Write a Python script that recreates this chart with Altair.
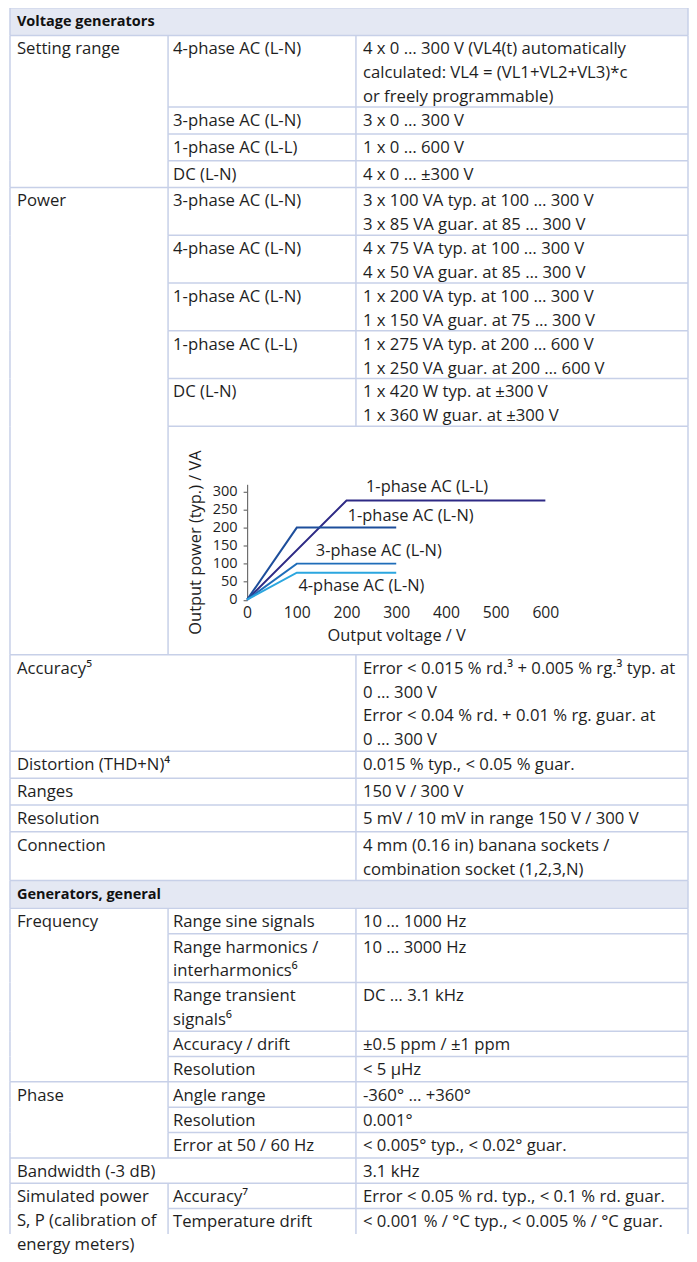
import altair as alt
import pandas as pd

# ---------------- table content ----------------
section1_title = "Voltage generators"
section2_title = "Generators, general"

# (col1 lines, col2 lines, col3 lines); col1 None -> continues from row above,
# col2 None -> col1 spans columns 1-2
rows_top = [
    (["Setting range"], ["4-phase AC (L-N)"],
     ["4 x 0 … 300 V (VL4(t) automatically", "calculated: VL4 = (VL1+VL2+VL3)*c", "or freely programmable)"]),
    (None, ["3-phase AC (L-N)"], ["3 x 0 … 300 V"]),
    (None, ["1-phase AC (L-L)"], ["1 x 0 … 600 V"]),
    (None, ["DC (L-N)"], ["4 x 0 … ±300 V"]),
    (["Power"], ["3-phase AC (L-N)"], ["3 x 100 VA typ. at 100 … 300 V", "3 x 85 VA guar. at 85 … 300 V"]),
    (None, ["4-phase AC (L-N)"], ["4 x 75 VA typ. at 100 … 300 V", "4 x 50 VA guar. at 85 … 300 V"]),
    (None, ["1-phase AC (L-N)"], ["1 x 200 VA typ. at 100 … 300 V", "1 x 150 VA guar. at 75 … 300 V"]),
    (None, ["1-phase AC (L-L)"], ["1 x 275 VA typ. at 200 … 600 V", "1 x 250 VA guar. at 200 … 600 V"]),
    (None, ["DC (L-N)"], ["1 x 420 W typ. at ±300 V", "1 x 360 W guar. at ±300 V"]),
    "CHART",
    (["Accuracy⁵"], None, ["Error < 0.015 % rd.³ + 0.005 % rg.³ typ. at", "0 … 300 V",
                           "Error < 0.04 % rd. + 0.01 % rg. guar. at", "0 … 300 V"]),
    (["Distortion (THD+N)⁴"], None, ["0.015 % typ., < 0.05 % guar."]),
    (["Ranges"], None, ["150 V / 300 V"]),
    (["Resolution"], None, ["5 mV / 10 mV in range 150 V / 300 V"]),
    (["Connection"], None, ["4 mm (0.16 in) banana sockets /", "combination socket (1,2,3,N)"]),
]
rows_bottom = [
    (["Frequency"], ["Range sine signals"], ["10 … 1000 Hz"]),
    (None, ["Range harmonics /", "interharmonics⁶"], ["10 … 3000 Hz"]),
    (None, ["Range transient", "signals⁶"], ["DC … 3.1 kHz"]),
    (None, ["Accuracy / drift"], ["±0.5 ppm / ±1 ppm"]),
    (None, ["Resolution"], ["< 5 µHz"]),
    (["Phase"], ["Angle range"], ["-360° … +360°"]),
    (None, ["Resolution"], ["0.001°"]),
    (None, ["Error at 50 / 60 Hz"], ["< 0.005° typ., < 0.02° guar."]),
    (["Bandwidth (-3 dB)"], None, ["3.1 kHz"]),
    (["Simulated power", "S, P (calibration of", "energy meters)"], ["Accuracy⁷"],
     ["Error < 0.05 % rd. typ., < 0.1 % rd. guar."]),
    (None, ["Temperature drift"], ["< 0.001 % / °C typ., < 0.005 % / °C guar."]),
]

# ---------------- embedded chart data ----------------
series_names = ["1-phase AC (L-L)", "1-phase AC (L-N)", "3-phase AC (L-N)", "4-phase AC (L-N)"]
series_voltage = [[0, 200, 600], [0, 100, 300], [0, 100, 300], [0, 100, 300]]
series_power = [[0, 275, 275], [0, 200, 200], [0, 100, 100], [0, 75, 75]]
series_colors = ["#2E2A85", "#1D4E9B", "#1F6DB9", "#2BA6DF"]
x_ticks = [0, 100, 200, 300, 400, 500, 600]
y_ticks = [0, 50, 100, 150, 200, 250, 300]
x_title = "Output voltage / V"
y_title = "Output power (typ.) / VA"

# ---------------- layout (pixels in page coordinates) ----------------
W, H, M = 685, 1246, 8
X_L, X_C2, X_C3, X_R = 10, 169, 358, 692
TX = {1: 17, 2: 174, 3: 365}
TOP = 4
HEADER_H = [28, 28]
top_heights = [72, 27, 27, 27, 48, 48, 48, 48, 48, 230, 97, 27, 27, 27, 49]
bottom_heights = [25.5, 49, 49, 25.5, 25.5, 25.5, 25.5, 25.5, 25.5, 25.5, 25.5]
LINE = 24
FIRST = 14
HEAD_TXT = 14.5
label_pos = {"1-phase AC (L-L)": (362, 313), "1-phase AC (L-N)": (329, 233),
             "3-phase AC (L-N)": (265, 134), "4-phase AC (L-N)": (230, 38)}
CH_X = (248.5 - M, 548.5 - M)
CH_Y0 = 599.5 - M
CH_PX_PER = 0.3627

FONT = "Open Sans"
FS = 16.8
FS_AX = 14.6
FS_CH = 16.5
TEXT_C = "#1E1E1E"
LINE_C = "#C7D0E8"
HEAD_BG = "#E4E8F3"

texts, bold_texts, hr, vr, rects = [], [], [], [], []


def add_header(title, y, h):
    rects.append(dict(x=X_L, x2=X_R, y=y, y2=y + h))
    hr.append(dict(x=X_L, x2=X_R, y=y, y2=y))
    vr.append(dict(x=X_L, x2=X_L, y=y, y2=y + h))
    vr.append(dict(x=X_R, x2=X_R, y=y, y2=y + h))
    bold_texts.append(dict(x=TX[1], y=y + HEAD_TXT, t=title))


def add_rows(rows, heights, y):
    for row, h in zip(rows, heights):
        if row == "CHART":
            hr.append(dict(x=X_C2, x2=X_R, y=y, y2=y))
            for xv in (X_L, X_C2, X_R):
                vr.append(dict(x=xv, x2=xv, y=y, y2=y + h))
            y += h
            continue
        c1, c2, c3 = row
        hr.append(dict(x=X_C2 if c1 is None else X_L, x2=X_R, y=y, y2=y))
        xs = [X_L, X_C3, X_R] + ([X_C2] if c2 is not None else [])
        for xv in xs:
            vr.append(dict(x=xv, x2=xv, y=y, y2=y + h))
        for col, lines in ((1, c1), (2, c2), (3, c3)):
            if lines:
                for i, s in enumerate(lines):
                    texts.append(dict(x=TX[col], y=y + FIRST + LINE * i, t=s))
        y += h
    return y


y = TOP
add_header(section1_title, y, HEADER_H[0])
y = add_rows(rows_top, top_heights, y + HEADER_H[0])
add_header(section2_title, y, HEADER_H[1])
y = add_rows(rows_bottom, bottom_heights, y + HEADER_H[1])

xt = alt.Scale(domain=[M, M + W], range=[0, W], nice=False, zero=False)
yt = alt.Scale(domain=[M, M + H], range=[0, H], nice=False, zero=False)

rect_layer = alt.Chart(pd.DataFrame(rects)).mark_rect(fill=HEAD_BG).encode(
    x=alt.X("x:Q", scale=xt, axis=None), x2="x2:Q",
    y=alt.Y("y:Q", scale=yt, axis=None), y2="y2:Q")
rule_layer = alt.Chart(pd.DataFrame(hr + vr)).mark_rule(color=LINE_C, strokeWidth=1.5).encode(
    x=alt.X("x:Q", scale=xt, axis=None), x2="x2:Q",
    y=alt.Y("y:Q", scale=yt, axis=None), y2="y2:Q")
text_layer = alt.Chart(pd.DataFrame(texts)).mark_text(
    align="left", baseline="middle", font=FONT, fontSize=FS, color=TEXT_C).encode(
    x=alt.X("x:Q", scale=xt, axis=None), y=alt.Y("y:Q", scale=yt, axis=None), text="t:N")
bold_layer = alt.Chart(pd.DataFrame(bold_texts)).mark_text(
    align="left", baseline="middle", font=FONT, fontSize=14.6, fontWeight="bold", color="#111").encode(
    x=alt.X("x:Q", scale=xt, axis=None), y=alt.Y("y:Q", scale=yt, axis=None), text="t:N")

# ---- embedded line chart ----
line_rows = []
for name, vs, ps in zip(series_names, series_voltage, series_power):
    for i, (v, p) in enumerate(zip(vs, ps)):
        line_rows.append(dict(series=name, v=v, p=p, i=i))
line_df = pd.DataFrame(line_rows)
lab_df = pd.DataFrame([dict(series=n, v=label_pos[n][0], p=label_pos[n][1]) for n in series_names])

xs = alt.Scale(domain=[0, 600], range=list(CH_X), nice=False, zero=False)
ys = alt.Scale(domain=[0, 320], range=[CH_Y0, CH_Y0 - 320 * CH_PX_PER], nice=False, zero=False)

axis_common = dict(grid=False, labelFont=FONT, labelFontSize=FS_AX, labelColor=TEXT_C,
                   titleFont=FONT, titleFontSize=FS_CH, titleFontWeight="normal", titleColor=TEXT_C,
                   labelFlush=False, labelOverlap=False)
x_axis = alt.Axis(values=x_ticks, domain=False, ticks=False, tickSize=0, labelPadding=5.5,
                  offset=CH_Y0 - H, title=x_title, titlePadding=8, labelFontSize=15.8,
                  **{k: v for k, v in axis_common.items() if k != "labelFontSize"})
y_axis = alt.Axis(values=y_ticks, domain=True, domainColor="#6E6E6E", domainWidth=1.2,
                  ticks=True, tickColor="#6E6E6E", tickSize=4, tickWidth=1.2, labelPadding=6,
                  offset=-(CH_X[0]), title=y_title, titlePadding=9, **axis_common)

line_layer = alt.Chart(line_df).mark_line(strokeWidth=2).encode(
    x=alt.X("v:Q", scale=xs, axis=x_axis),
    y=alt.Y("p:Q", scale=ys, axis=y_axis),
    color=alt.Color("series:N", scale=alt.Scale(domain=series_names, range=series_colors), legend=None),
    order="i:O")
label_layer = alt.Chart(lab_df).mark_text(
    align="center", baseline="middle", font=FONT, fontSize=FS_CH, color=TEXT_C).encode(
    x=alt.X("v:Q", scale=xs, axis=None), y=alt.Y("p:Q", scale=ys, axis=None), text="series:N")

chart = alt.layer(rect_layer, rule_layer, text_layer, bold_layer, line_layer, label_layer).resolve_scale(
    x="independent", y="independent", color="independent"
).properties(
    width=W, height=H, padding=0, autosize=alt.AutoSizeParams(type="none")
).configure_view(stroke=None)

chart.save("out.html", embed_options={"renderer": "svg", "actions": False})
